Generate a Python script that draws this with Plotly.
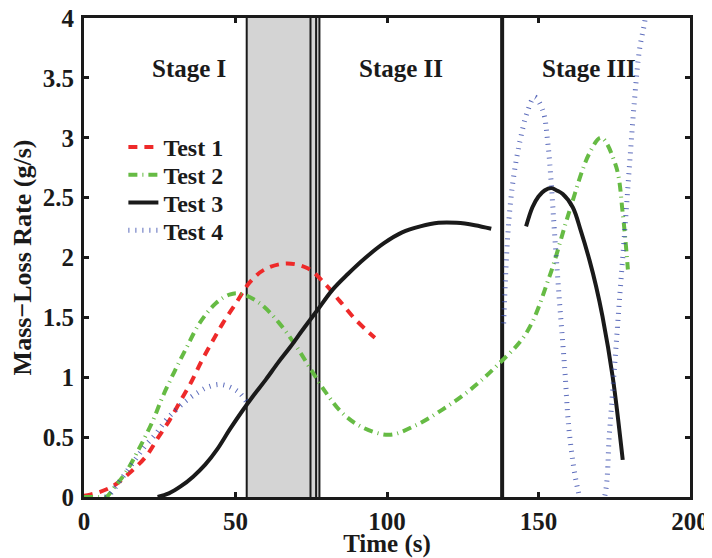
import plotly.graph_objects as go

# ---- data ----
t1_x = [0, 2, 5, 9.5, 15, 20.5, 24.3, 28.2, 32, 35.4, 38.7, 42.4, 45.8, 50.2, 54.6, 59.6, 66.7, 73.8, 79.9, 84.3, 89.3, 94.2, 96]
t1_y = [0.01, 0.02, 0.04, 0.09, 0.2, 0.34, 0.49, 0.64, 0.81, 0.96, 1.13, 1.30, 1.45, 1.62, 1.79, 1.9, 1.95, 1.91, 1.77, 1.64, 1.49, 1.37, 1.33]

t2_x = [0, 5, 7.3, 10, 13.9, 18.3, 22.6, 26, 29.9, 33.7, 38.1, 43.6, 48, 51.3, 57.9, 64.5, 70, 75, 79.9, 85.3, 92, 100.8, 109.6, 118.3, 127.2, 136, 146, 153.6, 160, 166.8, 170.7, 175.6, 177.8, 179.5]
t2_y = [0, 0, 0.0, 0.08, 0.21, 0.41, 0.63, 0.84, 1.05, 1.24, 1.45, 1.62, 1.69, 1.70, 1.62, 1.45, 1.26, 1.06, 0.87, 0.70, 0.58, 0.52, 0.60, 0.73, 0.89, 1.09, 1.37, 1.84, 2.37, 2.87, 3.0, 2.76, 2.37, 1.9]

t3_x = [24.3, 28, 32, 36, 40, 44, 48, 52, 56, 60, 64, 68, 72, 77, 82, 87, 93, 99, 105, 111, 117, 123, 129, 134.4,
        None, 145.9, 148, 150, 152, 154.2, 156, 158, 161.3, 164, 166.8, 169, 171.1, 174.5, 177.8]
t3_y = [0, 0.03, 0.09, 0.17, 0.27, 0.4, 0.56, 0.71, 0.85, 0.98, 1.12, 1.25, 1.39, 1.56, 1.73, 1.86, 2.0, 2.12, 2.21, 2.26, 2.29, 2.29, 2.27, 2.24,
        None, 2.26, 2.42, 2.51, 2.56, 2.58, 2.56, 2.53, 2.42, 2.22, 1.98, 1.76, 1.51, 1.0, 0.31]

t4_x = [7, 8.4, 12, 16, 20, 23.8, 27, 30.4, 34, 38, 41, 44.7, 48, 51.3, 54,
        None, 138.5, 139.9, 141.5, 143.7, 146.5, 148.7, 151.4, 153.1, 154.2, 155.3, 156.9, 158.6, 160.2, 163,
        167.4, 171.8, 173.4, 175.1, 176.7, 178.4, 180, 181.7, 183.3, 185, 187]
t4_y = [0, 0.02, 0.14, 0.28, 0.42, 0.53, 0.64, 0.73, 0.81, 0.88, 0.92, 0.94, 0.92, 0.87, 0.78,
        None, 1.45, 2.2, 2.62, 2.95, 3.23, 3.34, 3.23, 2.95, 2.62, 2.2, 1.64, 1.09, 0.53, 0.06,
        -0.3, 0.0, 0.53, 1.09, 1.64, 2.2, 2.76, 3.32, 3.73, 3.96, 4.3]

series_names = ["Test 1", "Test 2", "Test 3", "Test 4"]
stage_labels = ["Stage I", "Stage II", "Stage III"]
stage_x = [34.8, 104.5, 166.8]
stage_y = [3.58, 3.58, 3.58]

band_x = [53.7, 77.7]
band_lines = [53.7, 74.75, 76.6, 77.7]
stage3_line = 138

x_ticks = [0, 50, 100, 150, 200]
y_ticks = [0, 0.5, 1, 1.5, 2, 2.5, 3, 3.5, 4]

FONT = "Liberation Serif"
INK = "#1a1a1a"

legend_ids = ["legend", "legend2", "legend3", "legend4"]
legend_y = [0.730, 0.672, 0.614, 0.556]

styles = [
    dict(color="#ee2a2a", width=4, dash="9px,7px"),
    dict(color="#66bb44", width=4, dash="9px,5px,1px,5px"),
    dict(color=INK, width=4),
    dict(color="rgba(50,70,170,0.8)", width=5, dash="1px,6px"),
]
xs = [t1_x, t2_x, t3_x, t4_x]
ys = [t1_y, t2_y, t3_y, t4_y]

fig = go.Figure()
for name, x, y, st, lg in zip(series_names, xs, ys, styles, legend_ids):
    fig.add_trace(go.Scatter(x=x, y=y, mode="lines", name=name, legend=lg, connectgaps=False,
                             line=dict(shape="spline", smoothing=1, **st)))

shapes = [dict(type="rect", xref="x", yref="y", x0=band_x[0], x1=band_x[1], y0=0, y1=4,
               fillcolor="#d4d4d4", line=dict(width=0), layer="below")]
for bx in band_lines:
    shapes.append(dict(type="line", xref="x", yref="y", x0=bx, x1=bx, y0=0, y1=4,
                       line=dict(color=INK, width=2), layer="below"))
shapes.append(dict(type="line", xref="x", yref="y", x0=stage3_line, x1=stage3_line, y0=0, y1=4,
                   line=dict(color=INK, width=4), layer="below"))

annotations = [dict(x=sx, y=sy, xref="x", yref="y", text=lab, showarrow=False,
                    font=dict(family=FONT, size=25, color=INK, weight="bold"))
               for lab, sx, sy in zip(stage_labels, stage_x, stage_y)]

axis_common = dict(showline=True, linewidth=3, linecolor=INK, mirror="allticks",
                   ticks="inside", ticklen=5, tickwidth=2.5, tickcolor=INK,
                   showgrid=False, zeroline=False, automargin=False, ticklabeloverflow="allow",
                   tickfont=dict(family=FONT, size=25, color=INK, weight="bold"))

legend_font = dict(family=FONT, size=24, color=INK, weight="bold")
legends = {lg: dict(x=0.065, y=ly, xanchor="left", yanchor="middle", bgcolor="rgba(0,0,0,0)",
                    borderwidth=0, font=legend_font)
           for lg, ly in zip(legend_ids, legend_y)}

# page has an 8px body margin, so the figure is 8px smaller and offset accordingly
fig.update_layout(
    width=704, height=550,
    margin=dict(l=76, r=22, t=10, b=61),
    paper_bgcolor="white", plot_bgcolor="white",
    shapes=shapes, annotations=annotations,
    xaxis=dict(range=[0, 200], tickvals=x_ticks, ticklabelstandoff=0, **axis_common,
               title=dict(text="Time (s)", standoff=0,
                          font=dict(family=FONT, size=25, color=INK, weight="bold"))),
    yaxis=dict(range=[0, 4], tickvals=y_ticks, ticklabelstandoff=2, **axis_common,
               title=dict(text="Mass\u2212Loss Rate (g/s)", standoff=6,
                          font=dict(family=FONT, size=26, color=INK, weight="bold"))),
    showlegend=True,
    **legends,
)

fig.write_html("out.html")
